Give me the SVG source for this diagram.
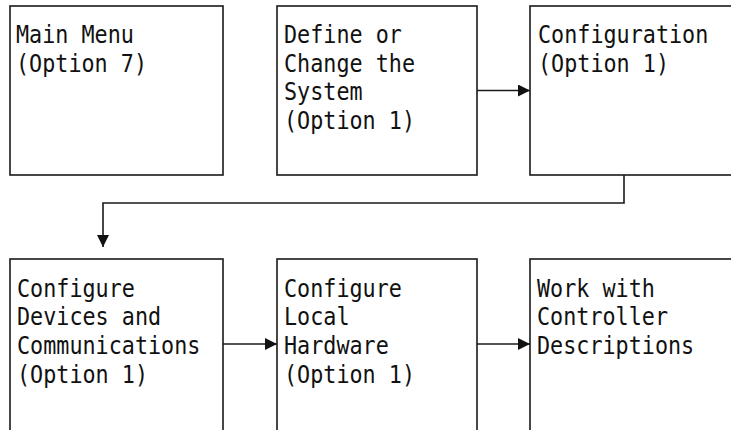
<svg xmlns="http://www.w3.org/2000/svg" width="731" height="430" viewBox="0 0 731 430">
<style>
.box{fill:#fff;stroke:#1a1a1a;stroke-width:1.6}
.t{font-family:"DejaVu Sans Mono","Liberation Mono",monospace;font-size:24.5px;fill:#111}
.c{fill:none;stroke:#1a1a1a;stroke-width:1.6}
</style>
<defs>
<marker id="ah" viewBox="0 0 12 12" refX="12" refY="6" markerWidth="12" markerHeight="12" markerUnits="userSpaceOnUse" orient="auto">
<path d="M0,0 L12,6 L0,12 Z" fill="#111"/>
</marker>
</defs>
<rect width="731" height="430" fill="#fff"/>
<g id="n1"><rect class="box" x="10" y="6" width="213" height="169"/>
<text class="t" x="16" y="43" textLength="117.9" lengthAdjust="spacingAndGlyphs">Main Menu</text>
<text class="t" x="16" y="72" textLength="131" lengthAdjust="spacingAndGlyphs">(Option 7)</text></g>
<g id="n2"><rect class="box" x="277" y="6" width="200" height="169"/>
<text class="t" x="284" y="43" textLength="117.9" lengthAdjust="spacingAndGlyphs">Define or</text>
<text class="t" x="284" y="72" textLength="131" lengthAdjust="spacingAndGlyphs">Change the</text>
<text class="t" x="284" y="100" textLength="78.6" lengthAdjust="spacingAndGlyphs">System</text>
<text class="t" x="284" y="129" textLength="131" lengthAdjust="spacingAndGlyphs">(Option 1)</text></g>
<g id="n3"><rect class="box" x="530" y="6" width="210" height="169"/>
<text class="t" x="538" y="43" textLength="170.3" lengthAdjust="spacingAndGlyphs">Configuration</text>
<text class="t" x="538" y="72" textLength="131" lengthAdjust="spacingAndGlyphs">(Option 1)</text></g>
<g id="n4"><rect class="box" x="10" y="259" width="213" height="180"/>
<text class="t" x="17" y="297" textLength="117.9" lengthAdjust="spacingAndGlyphs">Configure</text>
<text class="t" x="17" y="325" textLength="144.1" lengthAdjust="spacingAndGlyphs">Devices and</text>
<text class="t" x="17" y="354" textLength="183.4" lengthAdjust="spacingAndGlyphs">Communications</text>
<text class="t" x="17" y="383" textLength="131" lengthAdjust="spacingAndGlyphs">(Option 1)</text></g>
<g id="n5"><rect class="box" x="277" y="259" width="200" height="180"/>
<text class="t" x="284" y="297" textLength="117.9" lengthAdjust="spacingAndGlyphs">Configure</text>
<text class="t" x="284" y="325" textLength="65.5" lengthAdjust="spacingAndGlyphs">Local</text>
<text class="t" x="284" y="354" textLength="104.8" lengthAdjust="spacingAndGlyphs">Hardware</text>
<text class="t" x="284" y="383" textLength="131" lengthAdjust="spacingAndGlyphs">(Option 1)</text></g>
<g id="n6"><rect class="box" x="530" y="259" width="210" height="180"/>
<text class="t" x="537" y="297" textLength="117.9" lengthAdjust="spacingAndGlyphs">Work with</text>
<text class="t" x="537" y="325" textLength="131" lengthAdjust="spacingAndGlyphs">Controller</text>
<text class="t" x="537" y="354" textLength="157.2" lengthAdjust="spacingAndGlyphs">Descriptions</text></g>
<g id="connectors">
<path class="c" d="M477,90.5 H530" marker-end="url(#ah)"/>
<path class="c" d="M624,175 V203 H103 V247" marker-end="url(#ah)"/>
<path class="c" d="M223,344 H277" marker-end="url(#ah)"/>
<path class="c" d="M477,344 H530" marker-end="url(#ah)"/>
</g>
</svg>
